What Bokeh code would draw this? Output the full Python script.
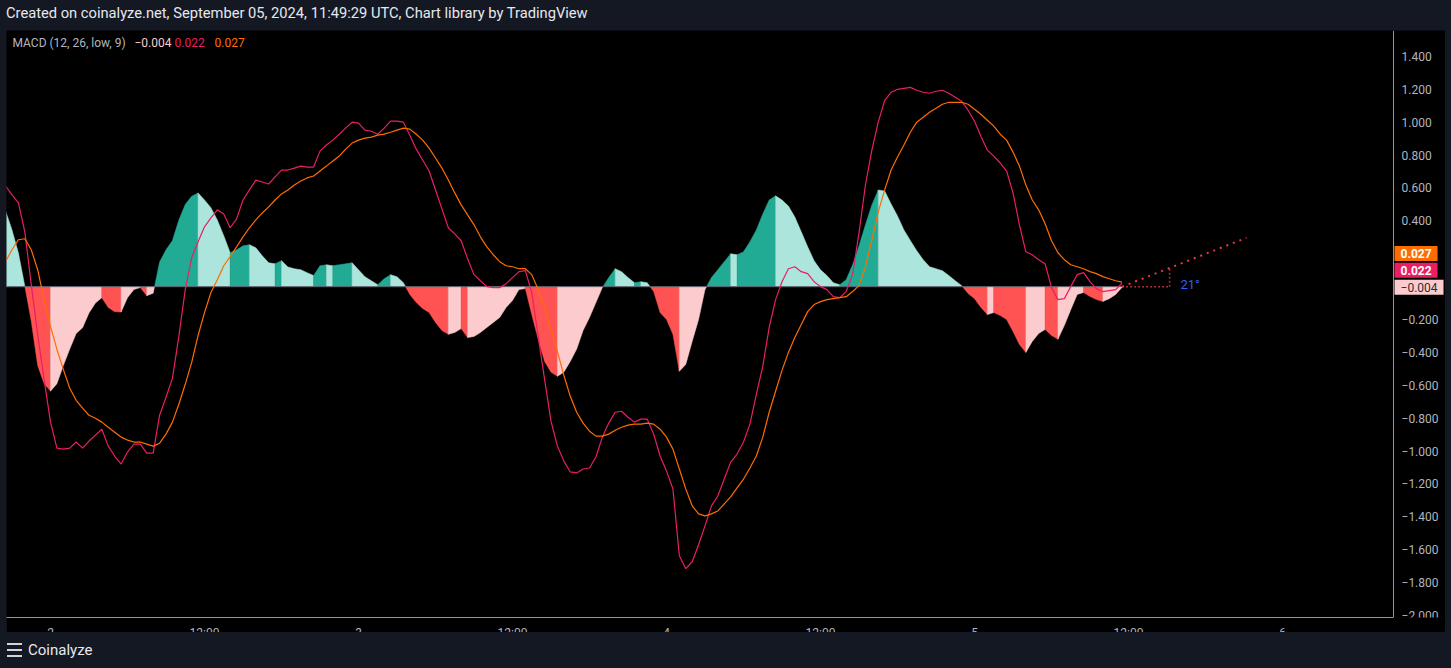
import pandas as pd
from bokeh.core.properties import value
from bokeh.embed import file_html
from bokeh.layouts import column
from bokeh.models import ColumnDataSource, Div, FixedTicker, Label, Range1d
from bokeh.plotting import figure
from bokeh.resources import INLINE

DARK = "#141823"
AXIS_LINE = "#4fb5a5"
AXIS_TEXT = "#b2b5be"
FONT = "Roboto"

# 30 minute bars, MACD (12, 26, low, 9)
bar_times = pd.date_range("2024-09-01 20:30", periods=175, freq="30min")

macd = [
    0.612, 0.558, 0.509, 0.333, 0.012, -0.291, -0.564, -0.824, -0.982, -0.988,
    -0.982, -0.945, -0.982, -0.939, -0.903, -0.867, -0.970, -1.030, -1.079, -1.006,
    -0.958, -0.958, -1.012, -1.012, -0.782, -0.673, -0.558, -0.303, -0.018, 0.176,
    0.273, 0.364, 0.418, 0.467, 0.442, 0.358, 0.412, 0.527, 0.588, 0.648,
    0.636, 0.624, 0.667, 0.709, 0.709, 0.721, 0.733, 0.727, 0.727, 0.824,
    0.861, 0.891, 0.927, 0.964, 1.000, 0.994, 0.952, 0.945, 0.927, 0.964,
    1.006, 1.006, 1.000, 0.921, 0.836, 0.770, 0.703, 0.588, 0.473, 0.358,
    0.321, 0.279, 0.170, 0.073, 0.036, 0.000, -0.006, -0.006, 0.018, 0.055,
    0.091, 0.097, -0.036, -0.303, -0.564, -0.818, -0.970, -1.061, -1.127, -1.133,
    -1.109, -1.103, -1.036, -0.915, -0.830, -0.764, -0.758, -0.794, -0.824, -0.806,
    -0.806, -0.897, -1.030, -1.121, -1.230, -1.636, -1.715, -1.673, -1.570, -1.455,
    -1.333, -1.273, -1.170, -1.067, -1.018, -0.945, -0.836, -0.655, -0.485, -0.248,
    -0.079, 0.030, 0.109, 0.121, 0.091, 0.079, 0.030, 0.000, -0.018, -0.061,
    -0.067, -0.030, 0.073, 0.327, 0.618, 0.830, 1.000, 1.133, 1.182, 1.200,
    1.206, 1.212, 1.194, 1.182, 1.176, 1.188, 1.194, 1.176, 1.152, 1.127,
    1.073, 1.006, 0.915, 0.830, 0.794, 0.752, 0.703, 0.570, 0.376, 0.212,
    0.194, 0.164, 0.139, -0.006, -0.079, -0.073, 0.000, 0.073, 0.085, 0.030,
    -0.012, -0.030, -0.024, -0.018, 0.022,
]

signal = [
    0.152, 0.224, 0.285, 0.291, 0.224, 0.103, -0.079, -0.242, -0.382, -0.503,
    -0.618, -0.691, -0.739, -0.782, -0.800, -0.824, -0.855, -0.885, -0.915, -0.933,
    -0.945, -0.945, -0.958, -0.970, -0.952, -0.897, -0.824, -0.715, -0.594, -0.461,
    -0.297, -0.158, -0.036, 0.042, 0.127, 0.182, 0.242, 0.303, 0.358, 0.406,
    0.448, 0.485, 0.527, 0.564, 0.588, 0.618, 0.642, 0.661, 0.673, 0.703,
    0.733, 0.764, 0.794, 0.836, 0.873, 0.891, 0.903, 0.909, 0.921, 0.927,
    0.939, 0.952, 0.964, 0.958, 0.927, 0.891, 0.842, 0.782, 0.721, 0.648,
    0.570, 0.497, 0.436, 0.376, 0.303, 0.242, 0.194, 0.152, 0.127, 0.121,
    0.109, 0.109, 0.073, -0.018, -0.127, -0.261, -0.394, -0.539, -0.667, -0.764,
    -0.830, -0.879, -0.909, -0.909, -0.897, -0.873, -0.855, -0.842, -0.836, -0.836,
    -0.830, -0.836, -0.867, -0.915, -0.988, -1.109, -1.230, -1.333, -1.382, -1.394,
    -1.382, -1.364, -1.321, -1.279, -1.224, -1.170, -1.103, -1.030, -0.915, -0.764,
    -0.636, -0.509, -0.400, -0.309, -0.230, -0.152, -0.109, -0.091, -0.079, -0.073,
    -0.067, -0.061, -0.030, 0.006, 0.121, 0.285, 0.455, 0.588, 0.709, 0.788,
    0.861, 0.939, 1.000, 1.030, 1.061, 1.085, 1.109, 1.121, 1.121, 1.121,
    1.109, 1.079, 1.048, 1.012, 0.976, 0.927, 0.891, 0.818, 0.733, 0.618,
    0.527, 0.467, 0.382, 0.279, 0.206, 0.164, 0.133, 0.121, 0.109, 0.091,
    0.079, 0.061, 0.048, 0.036, 0.027,
]

hist = [
    0.460, 0.345, 0.205, 0.003, -0.210, -0.480, -0.590, -0.636, -0.590, -0.480,
    -0.380, -0.285, -0.250, -0.160, -0.100, -0.067, -0.127, -0.152, -0.155, -0.067,
    -0.018, -0.006, -0.055, -0.040, 0.150, 0.224, 0.280, 0.405, 0.500, 0.550,
    0.570, 0.527, 0.480, 0.405, 0.310, 0.206, 0.224, 0.248, 0.255, 0.236,
    0.188, 0.145, 0.139, 0.158, 0.120, 0.109, 0.103, 0.085, 0.067, 0.127,
    0.133, 0.127, 0.133, 0.139, 0.145, 0.103, 0.060, 0.036, 0.012, 0.048,
    0.073, 0.060, 0.024, -0.048, -0.097, -0.133, -0.158, -0.218, -0.267, -0.290,
    -0.279, -0.255, -0.310, -0.303, -0.279, -0.248, -0.218, -0.188, -0.127, -0.085,
    -0.018, -0.012, -0.170, -0.320, -0.455, -0.520, -0.545, -0.520, -0.455, -0.380,
    -0.267, -0.188, -0.097, -0.006, 0.055, 0.109, 0.091, 0.055, 0.024, 0.030,
    0.024, -0.030, -0.158, -0.200, -0.290, -0.515, -0.473, -0.333, -0.200, -0.018,
    0.055, 0.103, 0.152, 0.200, 0.194, 0.212, 0.273, 0.345, 0.442, 0.527,
    0.552, 0.527, 0.490, 0.424, 0.333, 0.242, 0.158, 0.103, 0.067, 0.024,
    0.012, 0.042, 0.133, 0.248, 0.376, 0.497, 0.588, 0.582, 0.503, 0.430,
    0.345, 0.280, 0.218, 0.164, 0.121, 0.109, 0.097, 0.067, 0.036, 0.006,
    -0.042, -0.073, -0.127, -0.170, -0.158, -0.176, -0.200, -0.273, -0.352, -0.400,
    -0.333, -0.285, -0.260, -0.297, -0.320, -0.236, -0.140, -0.048, -0.036, -0.060,
    -0.079, -0.090, -0.073, -0.048, -0.004,
]

x_tick_times = pd.date_range("2024-09-02 00:00", periods=9, freq="12h")
x_tick_labels = ["2", "12:00", "3", "12:00", "4", "12:00", "5", "12:00", "6"]
y_ticks = [-2.0, -1.8, -1.6, -1.4, -1.2, -1.0, -0.8, -0.6, -0.4, -0.2,
           0.0, 0.2, 0.4, 0.6, 0.8, 1.0, 1.2, 1.4]

# angle drawing (trend angle tool) at the end of the data
trend_times = ["2024-09-05 11:30", "2024-09-05 21:12"]
trend_values = [0.0, 0.297]
base_times = ["2024-09-05 11:30", "2024-09-05 15:12"]
base_values = [0.0, 0.0]
rise_times = ["2024-09-05 15:12", "2024-09-05 15:12"]
rise_values = [0.0, 0.115]
angle_time = "2024-09-05 16:03"
angle_value = 0.012
angle_text = "21°"

# visible window; the price scale sits at SCALE_AT
X_START, X_END = "2024-09-01 20:34:17", "2024-09-06 12:42:00"
SCALE_AT = "2024-09-06 08:39:00"
Y_START, Y_END = -2.0121, 1.5576
FRAME_H = 589


def to_ms(times):
    return [float(v) for v in
            pd.DatetimeIndex(times).values.astype("datetime64[ms]").astype("int64")]


def fmt(v):
    return f"{v:.3f}".replace("-", "\u2212")


def bar_color(i):
    if i > 0:
        rising = hist[i] > hist[i - 1]
    else:
        rising = hist[1] < hist[0]
    if hist[i] >= 0:
        return "#22ab94" if rising else "#ace5dc"
    return "#fccbcd" if rising else "#ff5252"


t = to_ms(bar_times)
x_ticks = to_ms(x_tick_times)
x0_ms, x1_ms, scale_ms = to_ms([X_START, X_END, SCALE_AT])

p = figure(
    width=1439, height=612,
    x_axis_type="datetime", y_axis_location="right",
    x_range=Range1d(x0_ms, x1_ms), y_range=Range1d(Y_START, Y_END),
    output_backend="svg", toolbar_location=None,
    min_border_left=0, min_border_right=0, min_border_top=0, min_border_bottom=23,
    background_fill_color="#000000", border_fill_color="#000000",
    outline_line_color=None, margin=(0, 0, 0, 6),
)
p.grid.visible = False

p.xaxis.ticker = FixedTicker(ticks=x_ticks)
p.xaxis.major_label_overrides = dict(zip(x_ticks, x_tick_labels))
p.xaxis.bounds = (x0_ms, scale_ms)
p.yaxis.ticker = FixedTicker(ticks=y_ticks)
p.yaxis.major_label_overrides = {v: fmt(v) for v in y_ticks}
p.yaxis.fixed_location = scale_ms
for ax in (p.xaxis, p.yaxis):
    ax.axis_line_color = AXIS_LINE
    ax.major_tick_line_color = None
    ax.minor_tick_line_color = None
    ax.major_label_text_color = AXIS_TEXT
    ax.major_label_text_font = FONT
    ax.major_label_text_font_size = "12px"
    ax.major_label_standoff = 2
p.yaxis.major_tick_out = 0
p.yaxis.major_label_standoff = 8

# histogram pieces between bars, split where they cross zero,
# then joined into one area per run of equal colour
pieces = []
for i in range(1, len(hist)):
    xa, xb = t[i - 1], t[i]
    ha, hb = hist[i - 1], hist[i]
    if ha * hb < 0:
        xz = xa + (xb - xa) * ha / (ha - hb)
        pieces.append((xa, ha, xz, 0.0, bar_color(i - 1)))
        pieces.append((xz, 0.0, xb, hb, bar_color(i)))
    else:
        pieces.append((xa, ha, xb, hb, bar_color(i)))
xs, ys, cs = [], [], []
for xa, ha, xb, hb, c in pieces:
    if cs and cs[-1] == c and xs[-1][-1] == xa:
        xs[-1].append(xb)
        ys[-1].append(hb)
    else:
        xs.append([xa, xa, xb])
        ys.append([0.0, ha, hb])
        cs.append(c)
for px, py in zip(xs, ys):
    px.append(px[-1])
    py.append(0.0)
src = ColumnDataSource(dict(xs=xs, ys=ys, color=cs))
p.patches("xs", "ys", source=src, fill_color="color", fill_alpha=1.0,
          line_color="color", line_alpha=1.0, line_width=0.5)

p.line([t[0], t[-1]], [0, 0], line_color="#5d606b", line_width=1)
p.line(t, macd, line_color="#e91e63", line_width=1.2)
p.line(t, signal, line_color="#ff6d00", line_width=1.2)

p.line(to_ms(base_times), base_values, line_color="#a8303b", line_width=1.5, line_dash="2 2")
p.line(to_ms(rise_times), rise_values, line_color="#a8303b", line_width=1.5, line_dash="2 2")
p.line(to_ms(trend_times), trend_values, line_color="#f23645", line_width=2, line_dash="2 5")
p.text(to_ms([angle_time]), [angle_value], text=[angle_text], text_color="#2962ff",
       text_font=value(FONT), text_font_size="13px", text_baseline="middle")

# legend line at top left
legend_parts = [("MACD (12, 26, low, 9)", AXIS_TEXT, 6),
                (fmt(hist[-1]), "#fccbcd", 128),
                (fmt(macd[-1]), "#e91e63", 168),
                (fmt(signal[-1]), "#ff6d00", 208)]
for text, color, x in legend_parts:
    p.add_layout(Label(x=x, y=FRAME_H - 14, x_units="screen", y_units="screen",
                       text=text, text_color=color, text_font=FONT,
                       text_font_size="12px", text_baseline="middle"))

# last value tags on the price scale, stacked upwards
tag_h = 17 * (Y_END - Y_START) / FRAME_H
tags = sorted([(hist[-1], "#fccbcd", "#2a2e39", "normal"),
               (macd[-1], "#e91e63", "#ffffff", "bold"),
               (signal[-1], "#ff6d00", "#ffffff", "bold")])
y_prev = None
for v, bg, fg, style in tags:
    y_tag = v if y_prev is None else max(v, y_prev + tag_h)
    y_prev = y_tag
    p.add_layout(Label(x=scale_ms, y=y_tag, text=fmt(v), text_color=fg,
                       text_font=FONT, text_font_size="12px", text_font_style=style,
                       text_baseline="middle", text_align="left", x_offset=1,
                       background_fill_color=bg, padding=(6, 3)))

header = Div(
    text=('<div style="height:30px;line-height:27px;padding-left:6px;white-space:nowrap;">'
          'Created on coinalyze.net, September 05, 2024, 11:49:29 UTC, '
          'Chart library by TradingView</div>'),
    width=1451, height=30, margin=(0, 0, 0, 0),
    styles={"color": "#e6e8ee", "font-family": FONT, "font-size": "14.7px",
            "background-color": DARK},
)

bar_line = '<div style="width:15px;height:2px;background:#d1d4dc;margin-bottom:4px;"></div>'
footer = Div(
    text=('<div style="position:absolute;left:7px;top:11px;">' + bar_line * 3 + '</div>'
          '<div style="position:absolute;left:28px;top:0px;line-height:36px;'
          "font-family:'Liberation Sans Narrow',Roboto;font-size:15px;color:#e6e8ee;\">"
          'Coinalyze</div>'),
    width=1451, height=36, margin=(-10, 0, 0, 0),
    styles={"position": "relative", "z-index": "100", "background-color": DARK},
)

page = column(header, p, footer,
              styles={"position": "absolute", "left": "0px", "top": "0px",
                      "background-color": DARK})

open("out.html", "w").write(file_html(page, INLINE))
